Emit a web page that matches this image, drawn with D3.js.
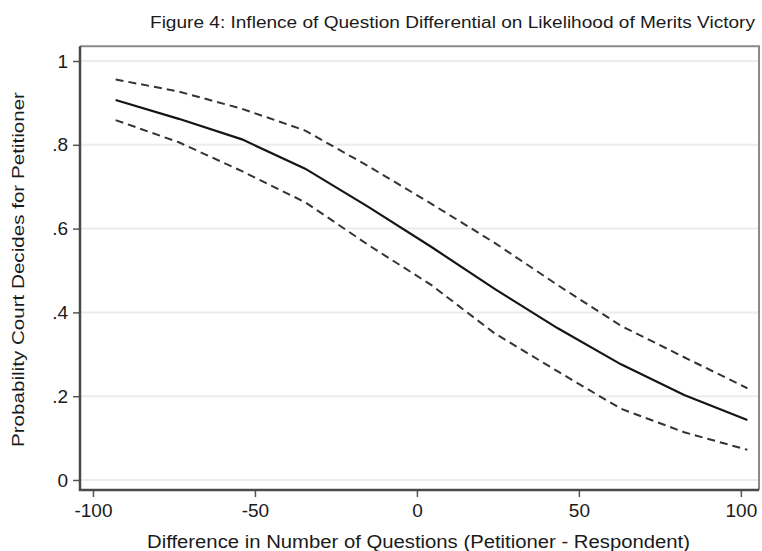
<!DOCTYPE html>
<html>
<head>
<meta charset="utf-8">
<script src="https://cdn.jsdelivr.net/npm/d3@7"></script>
<style>
  body { margin: 0; background: #fff; }
  svg { display: block; font-family: 'Liberation Sans', Arial, sans-serif; }
</style>
</head>
<body>
<svg id="chart" width="762" height="551"></svg>
<script>
// question differential (petitioner - respondent)
const diffs = [-93, -73.5, -54, -34.5, -15, 4.5, 24, 43.5, 63, 82.5, 102]
// predicted probability and 95% bounds
const prob  = [0.907, 0.862, 0.813, 0.743, 0.652, 0.556, 0.456, 0.362, 0.276, 0.203, 0.143]
const upper = [0.956, 0.927, 0.886, 0.834, 0.749, 0.659, 0.566, 0.465, 0.368, 0.293, 0.219]
const lower = [0.859, 0.806, 0.737, 0.663, 0.561, 0.465, 0.350, 0.259, 0.170, 0.114, 0.072]
const xTicks = [-100, -50, 0, 50, 100]
const yTicks = [0, 0.2, 0.4, 0.6, 0.8, 1]

const svg = d3.select('#chart')

const x = d3.scaleLinear().domain([-104, 105.6]).range([80, 759])
const y = d3.scaleLinear().domain([0, 1]).range([480, 61])
const yLo = -0.024, yHi = 1.035

// gridlines
svg.append('g')
  .selectAll('line')
  .data(yTicks)
  .join('line')
  .attr('x1', x(-104)).attr('x2', x(105.6))
  .attr('y1', d => y(d)).attr('y2', d => y(d))
  .attr('stroke', '#ececec')
  .attr('stroke-width', 2)

// outer frame (top / right)
svg.append('path')
  .attr('d', `M${x(-104)},${y(yHi)}H${x(105.6)}V${y(yLo)}`)
  .attr('fill', 'none')
  .attr('stroke', '#8a8a8a')
  .attr('stroke-width', 2)

const line = d3.line().x(d => x(d[0])).y(d => y(d[1]))
const series = [
  { vals: upper, dash: '8,5', color: '#333', w: 2 },
  { vals: lower, dash: '8,5', color: '#333', w: 2 },
  { vals: prob, dash: null, color: '#151515', w: 2.2 }
]
series.forEach(s => {
  svg.append('path')
    .datum(diffs.map((d, i) => [d, s.vals[i]]))
    .attr('d', line)
    .attr('fill', 'none')
    .attr('stroke', s.color)
    .attr('stroke-width', s.w)
    .attr('stroke-dasharray', s.dash)
})

// axes
const yAxis = svg.append('g')
  .attr('transform', `translate(${x(-104)},0)`)
  .call(d3.axisLeft(y).tickValues(yTicks).tickSize(7).tickPadding(5)
    .tickFormat(d => d === 0 || d === 1 ? String(d) : d.toFixed(1).replace(/^0/, '')))
const xAxis = svg.append('g')
  .attr('transform', `translate(0,${y(yLo)})`)
  .call(d3.axisBottom(x).tickValues(xTicks).tickSize(7).tickPadding(6)
    .tickFormat(d => String(d)))

;[yAxis, xAxis].forEach(g => {
  g.select('.domain').attr('d', null)
  g.selectAll('.tick line').attr('stroke', '#555').attr('stroke-width', 1.5)
  g.selectAll('.tick text').attr('fill', '#1a1a1a').style('font-size', '19px')
    .style('font-family', "'Liberation Sans', Arial, sans-serif")
})

// left and bottom axis lines
svg.append('path')
  .attr('d', `M${x(-104)},${y(yHi)}V${y(yLo)}H${x(105.6)}`)
  .attr('fill', 'none')
  .attr('stroke', '#4a4a4a')
  .attr('stroke-width', 2.5)

// titles
svg.append('text')
  .attr('x', 150).attr('y', 28)
  .attr('textLength', 605).attr('lengthAdjust', 'spacingAndGlyphs')
  .style('font-size', '16px').attr('fill', '#1a1a1a')
  .text('Figure 4: Inflence of Question Differential on Likelihood of Merits Victory')

svg.append('text')
  .attr('x', 147).attr('y', 548)
  .attr('textLength', 543).attr('lengthAdjust', 'spacingAndGlyphs')
  .style('font-size', '18px').attr('fill', '#1a1a1a')
  .text('Difference in Number of Questions (Petitioner - Respondent)')

svg.append('text')
  .attr('transform', 'translate(24,447) rotate(-90)')
  .attr('textLength', 355).attr('lengthAdjust', 'spacingAndGlyphs')
  .style('font-size', '17px').attr('fill', '#1a1a1a')
  .text('Probability Court Decides for Petitioner')
</script>
</body>
</html>
